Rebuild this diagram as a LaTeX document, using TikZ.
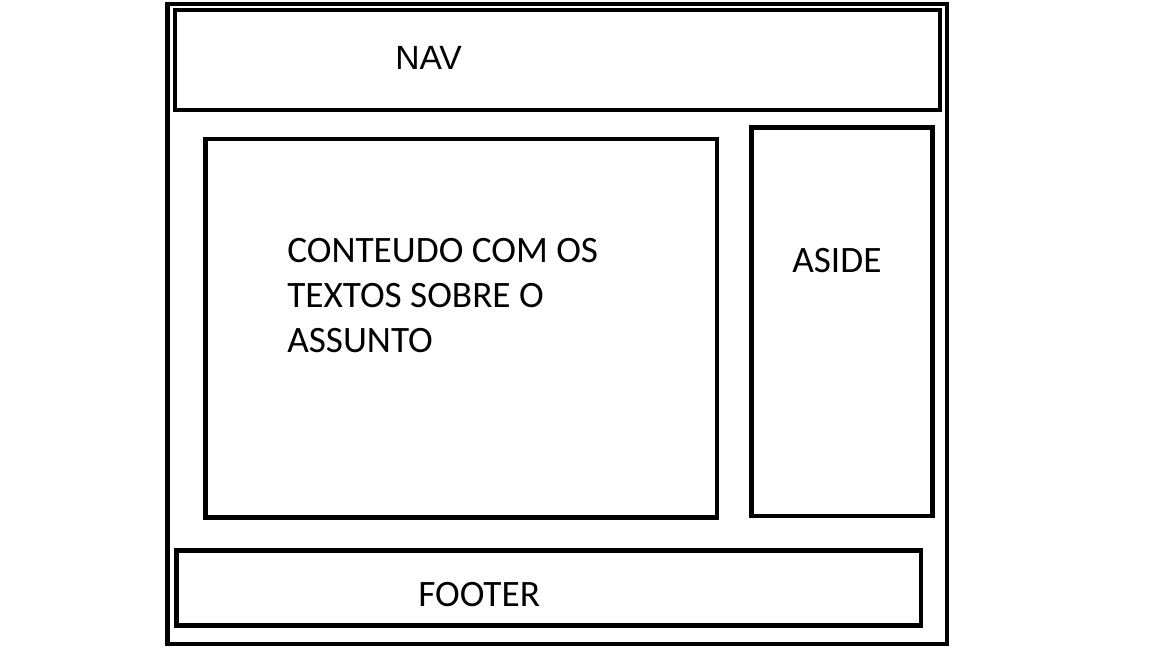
\documentclass[tikz,border=0pt]{standalone}
\usepackage{fontspec}
\setmainfont{Carlito}
\newfontfamily\navfont{Liberation Sans}
\usetikzlibrary{positioning}

\begin{document}
\begin{tikzpicture}[
  x=0.025cm, y=-0.025cm,
  frame/.style={draw, line width=3.3pt},
  lbl/.style={inner sep=0pt, anchor=base west, font=\fontsize{26.5}{32}\selectfont, align=left},
]
\useasboundingbox (0,0) rectangle (1152,648);
% page frame
\draw[frame, line width=3pt] (167.5,4) rectangle (947,644);
% blocks
\draw[frame] (175,10) rectangle (940,110);
\draw[frame] (205.5,139) rectangle (717,517.5);
\draw[frame] (751.5,127.5) rectangle (932.5,516);
\draw[frame] (176.5,550.5) rectangle (921,625.5);
% labels
\node[lbl, font=\navfont\fontsize{23.9}{28}\selectfont] (nav) at (395,70) {NAV};
\node[lbl] (conteudo) at (287,352.5) {CONTEUDO COM OS\\TEXTOS SOBRE O\\ASSUNTO};
\node[lbl] (aside) at (792,273) {ASIDE};
\node[lbl] (footer) at (418,606) {FOOTER};
\end{tikzpicture}
\end{document}
